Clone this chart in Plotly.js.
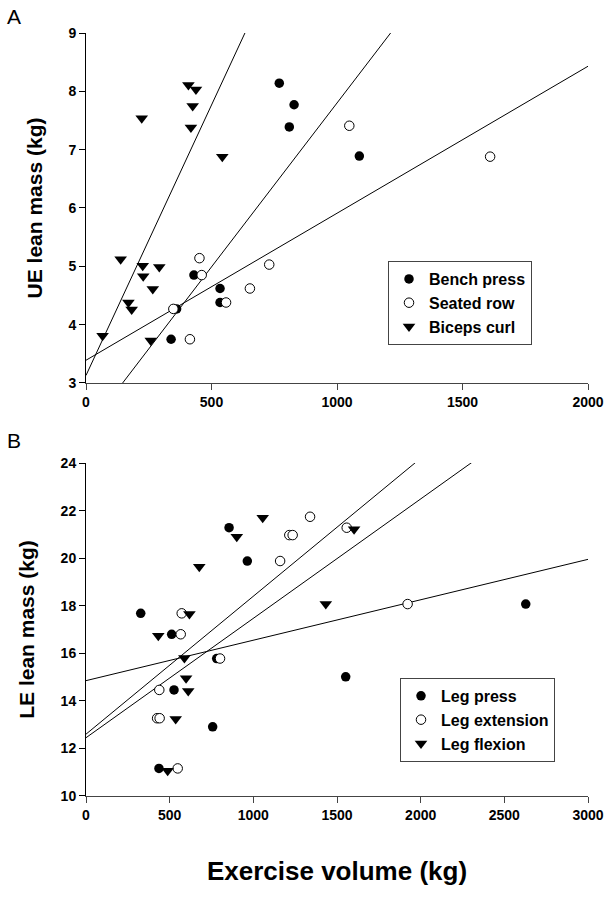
<!DOCTYPE html>
<html>
<head>
<meta charset="utf-8">
<script src="https://cdn.plot.ly/plotly-3.0.1.min.js"></script>
<style>
html,body{margin:0;padding:0;background:#fff;}
#chart{width:612px;height:897px;}
</style>
</head>
<body>
<div id="chart"></div>
<script>
// ---------- Panel A : upper-extremity ----------
const benchX = [770, 829, 810, 1089, 430, 534, 534, 361, 339];
const benchY = [8.14, 7.77, 7.39, 6.89, 4.85, 4.62, 4.38, 4.27, 3.75];
const rowX   = [1049, 1610, 452, 461, 730, 653, 558, 348, 414];
const rowY   = [7.41, 6.88, 5.14, 4.85, 5.03, 4.62, 4.38, 4.27, 3.75];
const curlX  = [408, 438, 425, 222, 418, 543, 138, 226, 292, 228, 266, 169, 182, 66, 258];
const curlY  = [8.11, 8.03, 7.75, 7.54, 7.38, 6.88, 5.12, 5.01, 4.99, 4.83, 4.61, 4.38, 4.26, 3.81, 3.73];
// regression lines (slope per kg, intercept in kg)
const fitA_names     = ['Bench press fit', 'Seated row fit', 'Biceps curl fit'];
const fitA_slope     = [0.00562, 0.00252, 0.00927];
const fitA_intercept = [2.18, 3.39, 3.13];
const xRangeA = [0, 2000];
const yRangeA = [3, 9];

// ---------- Panel B : lower-extremity ----------
const pressX = [855, 964, 327, 512, 2628, 781, 1552, 526, 757, 436];
const pressY = [21.28, 19.88, 17.68, 16.8, 18.07, 15.78, 15.01, 14.46, 12.91, 11.16];
const extX   = [1339, 1215, 1235, 1558, 1160, 572, 566, 1922, 801, 438, 425, 440, 548];
const extY   = [21.74, 20.97, 20.97, 21.28, 19.88, 17.68, 16.8, 18.07, 15.78, 14.46, 13.27, 13.27, 11.16];
const flexX  = [1056, 901, 677, 618, 432, 1433, 1602, 588, 598, 611, 536, 488];
const flexY  = [21.7, 20.9, 19.64, 17.65, 16.74, 18.07, 21.22, 15.8, 14.95, 14.41, 13.24, 11.06];
const fitB_names     = ['fit 1', 'fit 2', 'fit 3'];
const fitB_slope     = [0.0058, 0.0017, 0.00502];
const fitB_intercept = [12.6, 14.85, 12.45];
const xRangeB = [0, 3000];
const yRangeB = [10, 24];

const legendA = ['Bench press', 'Seated row', 'Biceps curl'];
const legendB = ['Leg press', 'Leg extension', 'Leg flexion'];

// ---------- styling ----------
const FONT = 'Liberation Sans, Arial, Helvetica, sans-serif';
const mFilled = {symbol: 'circle', size: 9.5, color: '#000', line: {width: 0}};
const mOpen   = {symbol: 'circle', size: 9.5, color: '#fff', line: {width: 1, color: '#000'}};
const mTri    = {symbol: 'triangle-down', size: 11, color: '#000', line: {width: 0}};

function fitTrace(slope, intercept, range, name, xa, ya) {
  const xs = [range[0], range[1]];
  return {x: xs, y: xs.map(v => intercept + slope * v), mode: 'lines', name: name,
          line: {color: '#000', width: 1}, showlegend: false, hoverinfo: 'skip',
          xaxis: xa, yaxis: ya};
}

const traces = [];
fitA_names.forEach((n, i) => traces.push(fitTrace(fitA_slope[i], fitA_intercept[i], xRangeA, n, 'x', 'y')));
fitB_names.forEach((n, i) => traces.push(fitTrace(fitB_slope[i], fitB_intercept[i], xRangeB, n, 'x2', 'y2')));

traces.push({x: benchX, y: benchY, mode: 'markers', name: legendA[0], marker: mFilled, xaxis: 'x', yaxis: 'y', legend: 'legend'});
traces.push({x: rowX, y: rowY, mode: 'markers', name: legendA[1], marker: mOpen, xaxis: 'x', yaxis: 'y', legend: 'legend'});
traces.push({x: curlX, y: curlY, mode: 'markers', name: legendA[2], marker: mTri, xaxis: 'x', yaxis: 'y', legend: 'legend'});
traces.push({x: pressX, y: pressY, mode: 'markers', name: legendB[0], marker: mFilled, xaxis: 'x2', yaxis: 'y2', legend: 'legend2'});
traces.push({x: extX, y: extY, mode: 'markers', name: legendB[1], marker: mOpen, xaxis: 'x2', yaxis: 'y2', legend: 'legend2'});
traces.push({x: flexX, y: flexY, mode: 'markers', name: legendB[2], marker: mTri, xaxis: 'x2', yaxis: 'y2', legend: 'legend2'});

const tickFont = {family: FONT, size: 14, color: '#000', weight: 'bold'};
function xAxis(range, anchor) {
  return {range: range, dtick: 500, tick0: 0, anchor: anchor, domain: [0, 1],
    showline: true, linecolor: '#444', linewidth: 1, ticks: 'outside', ticklen: 6,
    tickcolor: '#444', tickwidth: 1, showgrid: false, zeroline: false,
    tickfont: tickFont, fixedrange: true};
}
function yAxis(range, dtick, domain, anchor, title) {
  return {range: range, dtick: dtick, domain: domain, anchor: anchor,
    showline: true, linecolor: '#000', linewidth: 1, ticks: 'outside', ticklen: 6,
    tickcolor: '#000', tickwidth: 1, showgrid: false, zeroline: false,
    tickfont: tickFont, fixedrange: true,
    title: {text: title, font: {family: FONT, size: 21, color: '#000', weight: 'bold'}, standoff: 20}};
}

const xa2 = xAxis(xRangeB, 'y2');
xa2.title = {text: 'Exercise volume (kg)', font: {family: FONT, size: 26, color: '#000', weight: 'bold'}, standoff: 40};

const legendStyle = (x, y) => ({x: x, y: y, xanchor: 'left', yanchor: 'top', xref: 'paper', yref: 'paper',
  bgcolor: '#fff', bordercolor: '#444', borderwidth: 1,
  font: {family: FONT, size: 16, color: '#000', weight: 'bold'}, traceorder: 'normal', itemclick: false});

const layout = {
  width: 612, height: 897,
  margin: {l: 86, r: 24, t: 33, b: 101},
  paper_bgcolor: '#fff', plot_bgcolor: '#fff',
  showlegend: true,
  xaxis: xAxis(xRangeA, 'y'),
  yaxis: yAxis(yRangeA, 1, [0.5413, 1], 'x', 'UE lean mass (kg)'),
  xaxis2: xa2,
  yaxis2: yAxis(yRangeB, 2, [0, 0.4364], 'x2', 'LE lean mass (kg)'),
  legend: legendStyle(0.6016, 0.7012),
  legend2: legendStyle(0.6255, 0.1547),
  annotations: [
    {text: 'A', xref: 'paper', yref: 'paper', x: -0.143, y: 1.021, xanchor: 'center', yanchor: 'middle',
     showarrow: false, font: {family: FONT, size: 21, color: '#000'}},
    {text: 'B', xref: 'paper', yref: 'paper', x: -0.143, y: 0.466, xanchor: 'center', yanchor: 'middle',
     showarrow: false, font: {family: FONT, size: 21, color: '#000'}}
  ]
};

Plotly.newPlot('chart', traces, layout, {displayModeBar: false, staticPlot: true});
</script>
</body>
</html>
